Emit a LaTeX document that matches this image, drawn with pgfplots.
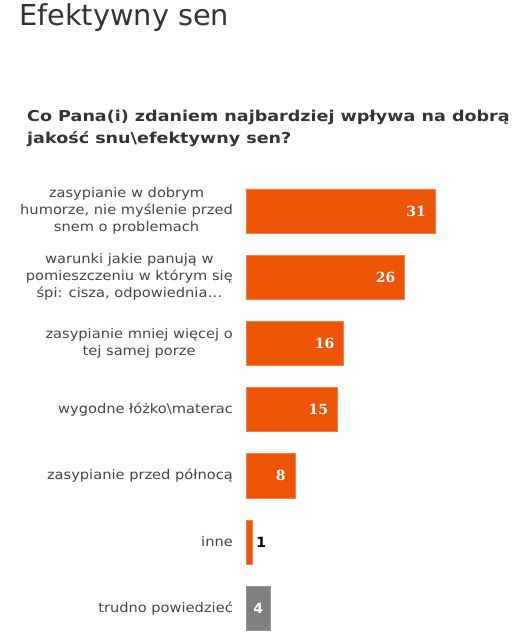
\documentclass[border=0pt]{standalone}
\usepackage{pgfplots}
\pgfplotsset{compat=1.18}
\usepackage{pgfplotstable}
\usepackage{fontspec}
\setmainfont{DejaVu Sans}
\newfontfamily\numserif{DejaVu Serif Bold}
\newfontfamily\subfont{DejaVu Sans Bold}[FakeStretch=1.17]
\newfontfamily\labelfont{DejaVu Sans}[FakeStretch=1.1]
\newfontfamily\sansbold{DejaVu Sans Bold}
\definecolor{barorange}{RGB}{238,84,6}
\definecolor{baredge}{RGB}{245,128,70}
\definecolor{bargray}{RGB}{128,128,128}
\definecolor{titlegray}{RGB}{51,51,51}
\definecolor{labelgray}{RGB}{68,68,68}

\pgfplotstableread{
idx val
0 31
1 26
2 16
3 15
4 8
}\mainbars
\pgfplotstableread{
idx val
5 1
}\smallbar
\pgfplotstableread{
idx val
6 4
}\graybar

\begin{document}
\begin{tikzpicture}
\fill[white] (0,0) rectangle (526bp,640bp);
\path[use as bounding box] (0,0) rectangle (526bp,640bp);
\node[anchor=base west, inner sep=0pt, text=titlegray, font=\fontsize{28.8bp}{32bp}\selectfont] at (19bp,614bp) {Efektywny sen};
\node[anchor=base west, inner sep=0pt, text=titlegray, align=left, font=\fontsize{15bp}{22bp}\selectfont\subfont] at (27bp,496.5bp) {Co Pana(i) zdaniem najbardziej wpływa na dobrą\\jakość snu\textbackslash efektywny sen?};
\begin{axis}[
  at={(246bp,462.1bp)}, anchor=north west,
  scale only axis, width=270bp, height=463.4bp,
  xmin=0, xmax=44.26, ymin=-0.5, ymax=6.5, y dir=reverse,
  xbar, bar width=44bp, bar shift=0pt,
  clip=false,
  hide x axis,
  axis y line*=left, y axis line style={draw=none},
  ytick={0,1,2,3,4,5,6},
  yticklabels={
    {zasypianie w dobrym\\humorze, nie myślenie przed\\snem o problemach},
    {warunki jakie panują w\\pomieszczeniu w którym się\\śpi: cisza, odpowiednia…},
    {zasypianie mniej więcej o\\tej samej porze},
    {wygodne łóżko\textbackslash materac},
    {zasypianie przed północą},
    {inne},
    {trudno powiedzieć}},
  major tick length=0pt,
  yticklabel style={align=center, inner sep=0pt, xshift=-13bp, text=labelgray, font=\fontsize{13.3bp}{17bp}\selectfont\labelfont},
  /pgf/number format/assume math mode=true,
  nodes near coords,
  every node near coord/.append style={anchor=east, inner sep=0pt, xshift=-9bp},
]
\addplot[fill=barorange, draw=baredge, line width=0.6bp,
  every node near coord/.append style={text=white, font=\fontsize{14bp}{16bp}\selectfont\numserif}]
  table[x=val, y=idx] {\mainbars};
\addplot[fill=barorange, draw=baredge, line width=0.6bp,
  every node near coord/.append style={anchor=west, xshift=13bp, text=black, font=\fontsize{14bp}{16bp}\selectfont\sansbold}]
  table[x=val, y=idx] {\smallbar};
\addplot[fill=bargray, draw=bargray!85!white, line width=0.6bp,
  every node near coord/.append style={xshift=2bp, text=white, font=\fontsize{14bp}{16bp}\selectfont\sansbold}]
  table[x=val, y=idx] {\graybar};
\end{axis}
\end{tikzpicture}
\end{document}
